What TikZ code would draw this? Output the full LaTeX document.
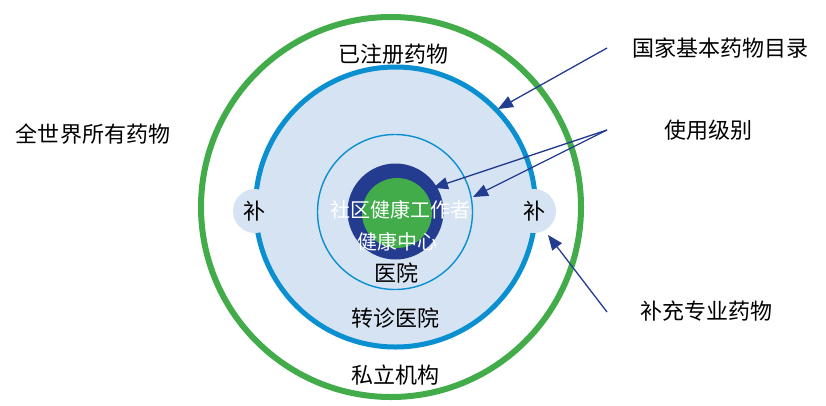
\documentclass[tikz,border=0pt]{standalone}
\usepackage{fontspec}
\setmainfont{Noto Sans CJK SC}
\usetikzlibrary{arrows.meta}
\definecolor{ggreen}{HTML}{43AC4A}
\definecolor{rblue}{HTML}{0A8FD0}
\definecolor{lblue}{HTML}{D5E3F3}
\definecolor{dblue}{HTML}{243C8F}
\tikzset{
  lbl/.style={font=\fontsize{22}{24}\selectfont, text=black, inner sep=1pt},
  wlbl/.style={font=\fontsize{20}{22}\selectfont, text=white, inner sep=1pt},
  arr/.style={draw=dblue, line width=1.3pt, -{Triangle[length=15pt,width=12pt]}},
}
\begin{document}
\begin{tikzpicture}[x=1pt,y=-1pt]
\useasboundingbox (0,0) rectangle (826,405);
% rings
\draw[ggreen, line width=6pt, fill=white] (391,207) circle (190);
\draw[rblue, line width=5pt, fill=lblue] (395.5,207) circle (140);
\fill[lblue] (255,211) circle (22);
\fill[lblue] (534,211) circle (22);
\draw[rblue, line width=1.4pt] (395,212) circle (77.5);
\fill[dblue] (395.5,211.5) circle (48);
\fill[ggreen] (397,213) circle (35);
% texts
\node[lbl] (reg) at (393,54) {已注册药物};
\node[lbl] (all) at (93,134) {全世界所有药物};
\node[wlbl] (chw) at (400,210) {社区健康工作者};
\node[wlbl] (hc) at (397,242) {健康中心};
\node[lbl] (hosp) at (396,273) {医院};
\node[lbl] (ref) at (395,318) {转诊医院};
\node[lbl] (priv) at (395,375) {私立机构};
\node[lbl] (bl) at (254,211) {补};
\node[lbl] (br) at (534,211) {补};
\node[lbl, anchor=west] (nedl) at (631,48) {国家基本药物目录};
\node[lbl, anchor=west] (use) at (663,130) {使用级别};
\node[lbl, anchor=west] (supp) at (639,311) {补充专业药物};
% arrow anchors
\coordinate (s1) at (607,48);
\coordinate (t1) at (498,109);
\coordinate (s2) at (607,130);
\coordinate (t2) at (433,188);
\coordinate (t3) at (473,197);
\coordinate (s4) at (607,312);
\coordinate (t4) at (548,235);
\draw[arr] (s1) -- (t1);
\draw[arr] (s2) -- (t2);
\draw[arr] (s2) -- (t3);
\draw[arr] (s4) -- (t4);
\end{tikzpicture}
\end{document}
